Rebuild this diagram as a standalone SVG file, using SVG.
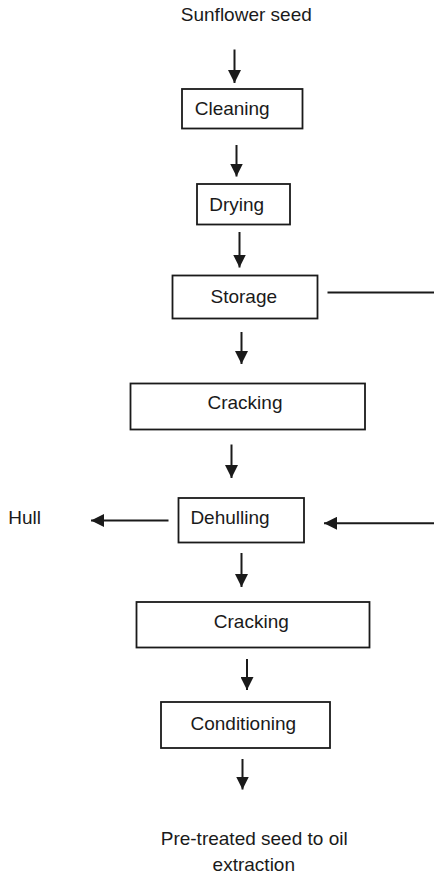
<svg xmlns="http://www.w3.org/2000/svg" width="434" height="873" viewBox="0 0 434 873">
<defs>
<style>
.box{fill:#fff;stroke:#1a1a1a;stroke-width:1.8}
.t{font-family:"Liberation Sans",Arial,sans-serif;font-size:19px;fill:#1a1a1a;text-anchor:middle}
.c{fill:none;stroke:#1a1a1a;stroke-width:2}
</style>
<marker id="ah" markerUnits="userSpaceOnUse" markerWidth="13" markerHeight="13" viewBox="0 0 13 13" refX="13" refY="6.5" orient="auto">
<path d="M0,0 L13,6.5 L0,13 Z" fill="#1a1a1a"/>
</marker>
</defs>
<rect width="434" height="873" fill="#fff"/>
<g id="connectors">
<line class="c" x1="234.5" y1="49.5" x2="234.5" y2="83" marker-end="url(#ah)"/>
<line class="c" x1="236.5" y1="145" x2="236.5" y2="176.5" marker-end="url(#ah)"/>
<line class="c" x1="239.5" y1="232" x2="239.5" y2="267.5" marker-end="url(#ah)"/>
<line class="c" x1="241.5" y1="332" x2="241.5" y2="364" marker-end="url(#ah)"/>
<line class="c" x1="231.5" y1="444.5" x2="231.5" y2="478" marker-end="url(#ah)"/>
<line class="c" x1="168.5" y1="520.5" x2="91" y2="520.5" marker-end="url(#ah)"/>
<line class="c" x1="327.5" y1="292.5" x2="434" y2="292.5"/>
<line class="c" x1="434" y1="523.3" x2="324" y2="523.3" marker-end="url(#ah)"/>
<line class="c" x1="241.5" y1="553" x2="241.5" y2="587" marker-end="url(#ah)"/>
<line class="c" x1="247" y1="659" x2="247" y2="690" marker-end="url(#ah)"/>
<line class="c" x1="242.5" y1="759" x2="242.5" y2="789.5" marker-end="url(#ah)"/>
</g>
<g id="sunflower-seed"><text class="t" x="246.3" y="20.7">Sunflower seed</text></g>
<g id="cleaning"><rect class="box" x="182" y="89" width="120.5" height="39.5"/><text class="t" x="232.2" y="115">Cleaning</text></g>
<g id="drying"><rect class="box" x="197" y="184" width="93" height="40.5"/><text class="t" x="236.7" y="210.5">Drying</text></g>
<g id="storage"><rect class="box" x="172.5" y="275.5" width="145" height="43"/><text class="t" x="243.8" y="303.3">Storage</text></g>
<g id="cracking1"><rect class="box" x="130.5" y="383.5" width="234.5" height="46"/><text class="t" x="245" y="409.3">Cracking</text></g>
<g id="hull"><text class="t" x="24.7" y="524">Hull</text></g>
<g id="dehulling"><rect class="box" x="178.5" y="498" width="125.5" height="44.5"/><text class="t" x="230" y="524">Dehulling</text></g>
<g id="cracking2"><rect class="box" x="136.5" y="602" width="233" height="45.5"/><text class="t" x="251.3" y="628.3">Cracking</text></g>
<g id="conditioning"><rect class="box" x="161" y="702" width="169" height="46"/><text class="t" x="243.3" y="730">Conditioning</text></g>
<g id="output"><text class="t" x="254.2" y="845">Pre-treated seed to oil</text><text class="t" x="253.8" y="870.5">extraction</text></g>
</svg>
